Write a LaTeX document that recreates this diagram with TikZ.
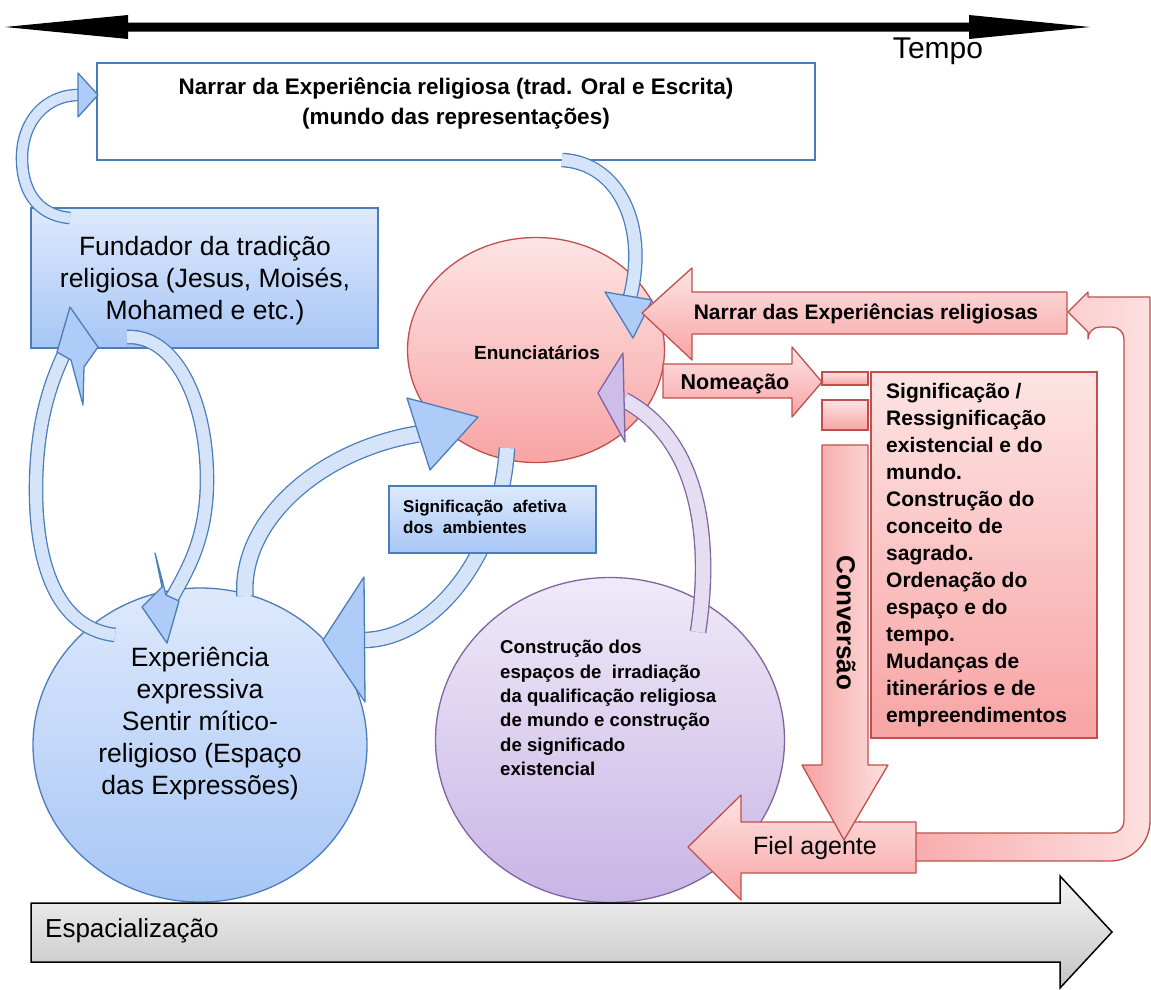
\documentclass[tikz,border=0pt]{standalone}
\usepackage{fontspec}
\setmainfont{Liberation Sans}
\usetikzlibrary{shapes.geometric}
\definecolor{bB}{HTML}{4A7EBB}
\definecolor{bF}{HTML}{D6E4FA}
\definecolor{bT}{HTML}{DEE9FC}
\definecolor{bBot}{HTML}{A7C6F6}
\definecolor{bH}{HTML}{AFCBF7}
\definecolor{rB}{HTML}{C0504D}
\definecolor{rT}{HTML}{FDE4E4}
\definecolor{rBot}{HTML}{F8A4A4}
\definecolor{rL}{HTML}{FDE0E0}
\definecolor{rD}{HTML}{F7A1A1}
\definecolor{pB}{HTML}{8064A2}
\definecolor{pF}{HTML}{E5DDF2}
\definecolor{pH}{HTML}{CDBDE8}
\definecolor{pT}{HTML}{EFEAF8}
\definecolor{pBot}{HTML}{C8B5E5}
\definecolor{gT}{HTML}{F4F4F4}
\definecolor{gBot}{HTML}{C4C4C4}
\begin{document}
\begin{tikzpicture}[x=1pt,y=-1pt,
  bbox/.style={draw=bB,line width=1.3pt,top color=bT,bottom color=bBot,inner sep=0pt},
  rbox/.style={draw=rB,line width=1.3pt,top color=rT,bottom color=rBot,inner sep=0pt},
  bband/.style={preaction={draw=bB,line width=#1pt+2.6pt},draw=bF,line width=#1pt},
  pband/.style={preaction={draw=pB,line width=#1pt+2.6pt},draw=pF,line width=#1pt},
  bhead/.style={draw=bB,line width=1.3pt,fill=bH,line join=round},
  phead/.style={draw=pB,line width=1.3pt,fill=pH,line join=round},
  rshape/.style={draw=rB,line width=1.3pt,line join=round},
  txt/.style={inner sep=0pt,text=black}]
\useasboundingbox (0,0) rectangle (1151,989);
\fill[white] (0,0) rectangle (1151,989);

% time axis
\fill[black] (5,27) -- (128,15) -- (128,22.5) -- (969,22.5) -- (969,15) -- (1090,27)
  -- (969,39) -- (969,31.5) -- (128,31.5) -- (128,39) -- cycle;
\node[txt,font=\fontsize{30}{30}\selectfont] (tempo) at (938,51) {Tempo};

% boxes and circles
\node[draw=bB,line width=2.6pt,fill=white,minimum width=718pt,minimum height=97pt,inner sep=0pt] (narrar) at (456,111.5) {};
\node[bbox,minimum width=347pt,minimum height=140pt] (fund) at (204.5,278) {};
\node[bbox,ellipse,minimum width=334pt,minimum height=314pt] (exp) at (200,745) {};
\node[rbox,ellipse,minimum width=257pt,minimum height=225pt] (enun) at (536,350) {};
\node[ellipse,draw=pB,line width=1.3pt,top color=pT,bottom color=pBot,inner sep=0pt,minimum width=349pt,minimum height=325pt] (pur) at (610,740) {};

% blue curved arrows
\coordinate (a1s) at (70,218); \coordinate (a1e) at (79,95);
\path[bband=10] (a1s) .. controls (35,215) and (22,188) .. (22,158) .. controls (22,122) and (45,95) .. (a1e);
\draw[bhead] (78,73) -- (98,95) -- (78,117) -- cycle;

\coordinate (l1s) at (115,635); \coordinate (l1e) at (64,354);
\path[bband=12] (l1s) .. controls (55,628) and (36,560) .. (36,490) .. controls (36,420) and (52,380) .. (l1e);
\draw[bhead] (57,352) -- (70,307) -- (98,347) -- (84,367) -- (83,405) -- (71,360) -- cycle;

\coordinate (l2s) at (127,337); \coordinate (l2e) at (172,598);
\path[bband=12] (l2s) .. controls (175,335) and (207,400) .. (207,480) .. controls (207,540) and (186,572) .. (l2e);
\draw[bhead] (179,601) -- (167,643) -- (142,607) -- (162,587) -- (155,553) -- (166,595) -- cycle;

\coordinate (a2s) at (562,160); \coordinate (a2e) at (630,297);
\path[bband=12] (a2s) .. controls (620,163) and (648,228) .. (a2e);
\draw[bhead] (605,292) -- (652,300) -- (633,338) -- cycle;

\coordinate (a3s) at (245,596); \coordinate (a3e) at (418,434);
\path[bband=15] (a3s) .. controls (240,520) and (320,450) .. (a3e);
\draw[bhead] (407,398) -- (478,417) -- (430,470) -- cycle;

\coordinate (a4s) at (507,448); \coordinate (a4e) at (363,640);
\path[bband=14] (a4s) .. controls (500,560) and (430,640) .. (a4e);
\draw[bhead] (364,577) -- (323,640) -- (365,702) -- cycle;

\coordinate (ps) at (698,632); \coordinate (pe) at (624,400);
\path[pband=14] (ps) .. controls (712,540) and (700,440) .. (pe);
\draw[phead] (623,353) -- (598,393) -- (625,442) -- cycle;

\node[bbox,minimum width=207pt,minimum height=67pt] (saf) at (492.5,519.5) {};

% red U tube
\draw[rshape,left color=rD,right color=rL] (860,833) [rounded corners=12pt] -- (1124,833) -- (1124,327) -- (1088,327)
  [sharp corners] -- (1088,332) -- (1068,312) -- (1088,292) -- (1088,297) -- (1150,297)
  [rounded corners=40pt] -- (1150,861) -- (860,861) [sharp corners] -- cycle;

% red block arrows
\draw[rshape,top color=rT,bottom color=rBot] (642,313) -- (692,268) -- (692,292) -- (1067,292) -- (1067,334) -- (692,334) -- (692,360) -- cycle;
\draw[rshape,top color=rT,bottom color=rBot] (663,364) -- (792,364) -- (792,347) -- (822,382) -- (792,417) -- (792,398) -- (663,398) -- cycle;
\node[rbox,minimum width=46pt,minimum height=13pt] (sr1) at (845,378.5) {};
\node[rbox,minimum width=46pt,minimum height=30pt] (sr2) at (845,415) {};
\node[rbox,minimum width=226pt,minimum height=366pt] (sig) at (984,555) {};
\draw[rshape,top color=rT,bottom color=rBot] (688,847) -- (741,795) -- (741,822) -- (916,822) -- (916,873) -- (741,873) -- (741,900) -- cycle;
\draw[rshape,left color=rD,right color=rL] (822,445) -- (868,445) -- (868,765) -- (888,765) -- (844,840) -- (802,765) -- (822,765) -- cycle;

% space axis
\draw[black,line width=1.5pt,line join=miter,top color=gT,bottom color=gBot] (31,903) -- (1060,903) -- (1060,876) -- (1112,932) -- (1060,988) -- (1060,962) -- (31,962) -- cycle;

% texts
\node[txt,align=center,font=\bfseries\fontsize{22.5}{30}\selectfont] (narrarT) at (456,103) {Narrar da Experiência religiosa (trad. Oral e Escrita)\\(mundo das representações)};
\node[txt,align=center,font=\fontsize{26.5}{32}\selectfont] (fundT) at (205,281) {Fundador da tradição\\religiosa (Jesus, Moisés,\\Mohamed e etc.)};
\node[txt,align=center,font=\fontsize{26.5}{32}\selectfont] (expT) at (200,724) {Experiência\\expressiva\\Sentir mítico-\\religioso (Espaço\\das Expressões)};
\node[txt,font=\bfseries\fontsize{19}{24}\selectfont] (enunT) at (537,353) {Enunciatários};
\node[txt,align=left,anchor=west,font=\bfseries\fontsize{18.6}{24.4}\selectfont] (purT) at (500,708) {Construção dos\\espaços de \ irradiação\\da qualificação religiosa\\de mundo e construção\\de significado\\existencial};
\node[txt,align=left,anchor=west,font=\bfseries\fontsize{17}{21}\selectfont] (safT) at (403,517) {Significação \ afetiva\\dos \ ambientes};
\node[txt,font=\bfseries\fontsize{21}{21}\selectfont] (ndT) at (866,314) {Narrar das Experiências religiosas};
\node[txt,font=\bfseries\fontsize{21.5}{21.5}\selectfont] (nomT) at (735,384) {Nomeação};
\node[txt,align=left,anchor=west,font=\bfseries\fontsize{21}{27}\selectfont] (sigT) at (886,555) {Significação /\\Ressignificação\\existencial e do\\mundo.\\Construção do\\conceito de\\sagrado.\\Ordenação do\\espaço e do\\tempo.\\Mudanças de\\itinerários e de\\empreendimentos};
\node[txt,rotate=-90,font=\bfseries\fontsize{26}{26}\selectfont] (convT) at (846,623) {Conversão};
\node[txt,font=\fontsize{25}{25}\selectfont] (fielT) at (815,848) {Fiel agente};
\node[txt,anchor=west,font=\fontsize{26}{26}\selectfont] (espT) at (45,931) {Espacialização};
\end{tikzpicture}
\end{document}
